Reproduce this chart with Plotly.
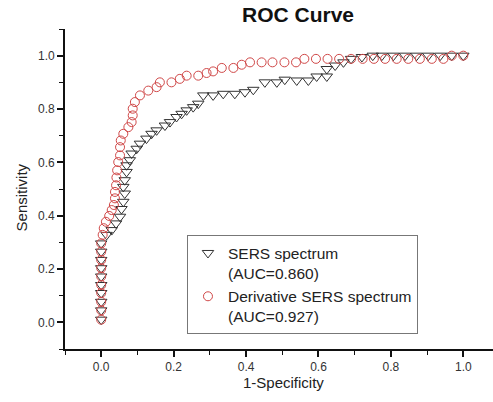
import plotly.graph_objects as go

# SERS spectrum (triangles)
sers_x = [0, 0, 0, 0, 0, 0, 0, 0, 0, 0,
          0.015, 0.029, 0.041, 0.052, 0.056, 0.061, 0.065, 0.061, 0.065, 0.070,
          0.070, 0.079, 0.084, 0.098, 0.107, 0.125, 0.139, 0.153, 0.176, 0.190,
          0.208, 0.222, 0.236, 0.254, 0.268, 0.282, 0.309, 0.337, 0.369, 0.397,
          0.420, 0.452, 0.485, 0.507, 0.540, 0.572, 0.595, 0.623, 0.623, 0.646,
          0.669, 0.690, 0.720, 0.750, 0.775, 0.807, 0.839, 0.871, 0.903, 0.936,
          0.968, 1.0]
sers_y = [0.01, 0.045, 0.077, 0.11, 0.14, 0.172, 0.203, 0.234, 0.265, 0.296,
          0.328, 0.346, 0.371, 0.396, 0.425, 0.452, 0.483, 0.508, 0.533, 0.564,
          0.589, 0.608, 0.633, 0.651, 0.670, 0.689, 0.707, 0.720, 0.738, 0.751,
          0.770, 0.782, 0.795, 0.807, 0.820, 0.851, 0.851, 0.857, 0.857, 0.863,
          0.872, 0.900, 0.900, 0.910, 0.907, 0.907, 0.922, 0.922, 0.950, 0.963,
          0.975, 0.988, 0.995, 1.0, 1.0, 1.0, 1.0, 1.0, 1.0, 1.0,
          1.0, 1.0]

# Derivative SERS spectrum (circles)
deriv_x = [0, 0, 0, 0, 0, 0, 0, 0, 0, 0,
           0.004, 0.007, 0.013, 0.022, 0.029, 0.035, 0.038, 0.038, 0.041, 0.042,
           0.044, 0.047, 0.052, 0.052, 0.054, 0.061, 0.075, 0.084, 0.087, 0.087,
           0.093, 0.107, 0.130, 0.153, 0.162, 0.194, 0.217, 0.236, 0.268, 0.291,
           0.309, 0.333, 0.365, 0.388, 0.411, 0.443, 0.473, 0.506, 0.538, 0.561,
           0.593, 0.625, 0.657, 0.690, 0.722, 0.753, 0.784, 0.816, 0.848, 0.880,
           0.913, 0.945, 0.968, 1.0]
deriv_y = [0.01, 0.045, 0.077, 0.11, 0.14, 0.172, 0.203, 0.234, 0.265, 0.296,
           0.328, 0.353, 0.377, 0.399, 0.421, 0.440, 0.465, 0.489, 0.514, 0.543,
           0.570, 0.601, 0.626, 0.657, 0.682, 0.707, 0.732, 0.751, 0.776, 0.801,
           0.826, 0.851, 0.869, 0.882, 0.900, 0.900, 0.913, 0.925, 0.925, 0.935,
           0.941, 0.954, 0.954, 0.966, 0.975, 0.975, 0.975, 0.975, 0.975, 0.988,
           0.988, 0.988, 0.988, 0.988, 0.988, 0.988, 0.988, 0.988, 0.988, 0.988,
           0.988, 0.988, 1.0, 1.0]

x_ticks = [0.0, 0.2, 0.4, 0.6, 0.8, 1.0]
y_ticks = [0.0, 0.2, 0.4, 0.6, 0.8, 1.0]
series_names = ["SERS spectrum<br>(AUC=0.860)", "Derivative SERS spectrum<br>(AUC=0.927)"]

FONT = "Liberation Sans, Arial, sans-serif"

fig = go.Figure()
fig.add_trace(go.Scatter(
    x=sers_x, y=sers_y, mode="markers", name=series_names[0],
    marker=dict(symbol="triangle-down-open", size=10, color="#333333",
                line=dict(width=1, color="#333333")),
))
fig.add_trace(go.Scatter(
    x=deriv_x, y=deriv_y, mode="markers", name=series_names[1],
    marker=dict(symbol="circle-open", size=9, color="#d04848",
                line=dict(width=1, color="#d04848")),
))

axis_common = dict(
    showline=True, linecolor="#111111", linewidth=1.6,
    ticks="outside", ticklen=6, tickwidth=1.5, tickcolor="#111111",
    showgrid=False, zeroline=False,
    tickfont=dict(family=FONT, size=12, color="#333333"),
    tickformat=".1f",
    minor=dict(ticks="outside", ticklen=4, tickwidth=1.2, tickcolor="#111111", dtick=0.1, showgrid=False),
)

fig.update_layout(
    width=493, height=402,
    margin=dict(l=65, r=0, t=29, b=53),
    paper_bgcolor="white", plot_bgcolor="white",
    title=dict(text="<b>ROC Curve</b>", x=298 / 493, xref="container", xanchor="center",
               y=1 - 15 / 402, yref="container", yanchor="middle",
               font=dict(family=FONT, size=21, color="#111111")),
    xaxis=dict(range=[-0.1, 1.082], tickvals=x_ticks, **axis_common),
    yaxis=dict(range=[-0.1, 1.1], tickvals=y_ticks, **axis_common),
    showlegend=True,
    legend=dict(x=0.285, y=0.355, xanchor="left", yanchor="top",
                bordercolor="#777777", borderwidth=1, bgcolor="white",
                valign="top", tracegroupgap=0,
                entrywidth=205, entrywidthmode="pixels",
                font=dict(family=FONT, size=15.5, color="#222222")),
    annotations=[
        dict(text="1-Specificity", xref="paper", yref="paper", x=(283 - 65) / 428, y=(349.3 - 383) / 320,
             xanchor="center", yanchor="middle", showarrow=False,
             font=dict(family=FONT, size=15, color="#222222")),
        dict(text="Sensitivity", xref="paper", yref="paper", x=(21.7 - 65) / 428, y=(349.3 - 198) / 320,
             xanchor="center", yanchor="middle", showarrow=False, textangle=-90,
             font=dict(family=FONT, size=15, color="#222222")),
    ],
)

fig.write_html("out.html")
